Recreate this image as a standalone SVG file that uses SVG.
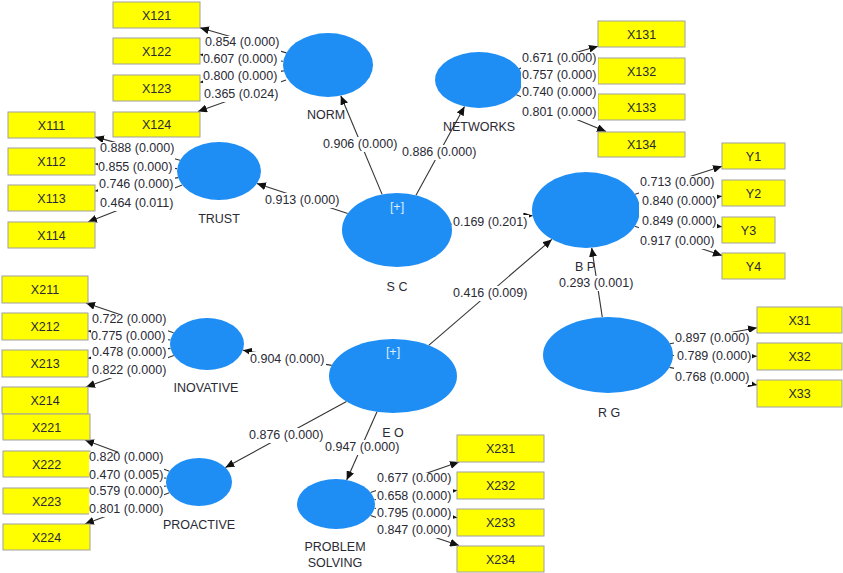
<svg xmlns="http://www.w3.org/2000/svg" width="843" height="573" viewBox="0 0 843 573">
<defs>
<marker id="ah" markerUnits="userSpaceOnUse" markerWidth="10" markerHeight="8" refX="9" refY="4" orient="auto">
<path d="M0,0 L9,4 L0,8 z" fill="#111"/>
</marker>
<style>
.c{stroke:#333;stroke-width:1.1;fill:none;marker-end:url(#ah)}
.lv{fill:#1E8EF5}
.bx{fill:#FFFF00;stroke:#A0A0A0;stroke-width:1}
.t{font-family:"Liberation Sans",Arial,sans-serif;font-size:12.5px;fill:#2a2a35}
.m{text-anchor:middle}
.pl{fill:#DDEEFF;font-family:"Liberation Sans",Arial,sans-serif;font-size:12.5px;text-anchor:middle}
.bg{fill:#fff}
</style>
</defs>
<rect width="843" height="573" fill="#fff"/>
<g id="connectors">
<!-- structural -->
<line class="c" x1="382.1" y1="194.4" x2="340.8" y2="95.7"/>
<line class="c" x1="416" y1="195.3" x2="464.5" y2="106.4"/>
<line class="c" x1="347.7" y1="213.6" x2="256.9" y2="183.5"/>
<line class="c" x1="451.3" y1="224.2" x2="532.6" y2="215.6"/>
<line class="c" x1="428.7" y1="345.3" x2="551.8" y2="239.4"/>
<line class="c" x1="602.3" y1="317.2" x2="591.7" y2="247.8"/>
<line class="c" x1="331.7" y1="365.4" x2="242.9" y2="350.2"/>
<line class="c" x1="346.5" y1="401.4" x2="225.4" y2="467.6"/>
<line class="c" x1="377" y1="411.8" x2="346.7" y2="480"/>
<!-- NORM -->
<line class="c" x1="286.4" y1="52.9" x2="200" y2="27.7"/>
<line class="c" x1="283.3" y1="61.3" x2="200" y2="54.6"/>
<line class="c" x1="283.8" y1="70.9" x2="200" y2="82.2"/>
<line class="c" x1="286" y1="80" x2="198" y2="111.5"/>
<!-- NETWORKS -->
<line class="c" x1="519.2" y1="68.6" x2="598" y2="46.3"/>
<line class="c" x1="522.8" y1="77.6" x2="598" y2="73.4"/>
<line class="c" x1="521.6" y1="87.1" x2="598" y2="99.8"/>
<line class="c" x1="516.3" y1="94.8" x2="606" y2="131.5"/>
<!-- TRUST -->
<line class="c" x1="180" y1="160.3" x2="95" y2="136.9"/>
<line class="c" x1="177.1" y1="168.6" x2="95" y2="164"/>
<line class="c" x1="178.1" y1="177.6" x2="95" y2="191"/>
<line class="c" x1="182.2" y1="185" x2="88" y2="222"/>
<!-- BP -->
<line class="c" x1="635.1" y1="194.2" x2="722" y2="166.2"/>
<line class="c" x1="639.4" y1="204.6" x2="722" y2="196.2"/>
<line class="c" x1="639.2" y1="216.5" x2="722" y2="226.7"/>
<line class="c" x1="634.8" y1="226.3" x2="722" y2="255.5"/>
<!-- RG -->
<line class="c" x1="670" y1="343.7" x2="757" y2="327.8"/>
<line class="c" x1="673" y1="355.5" x2="757" y2="356.2"/>
<line class="c" x1="669.5" y1="367.4" x2="757" y2="385"/>
<!-- INOVATIVE -->
<line class="c" x1="173.6" y1="332.8" x2="86" y2="303"/>
<line class="c" x1="170.4" y1="340" x2="88" y2="331.1"/>
<line class="c" x1="170.5" y1="348.4" x2="88" y2="358.3"/>
<line class="c" x1="173.9" y1="355.6" x2="86" y2="387"/>
<!-- PROACTIVE -->
<line class="c" x1="169.4" y1="471.3" x2="85" y2="440"/>
<line class="c" x1="166.4" y1="478.2" x2="90" y2="469.1"/>
<line class="c" x1="166.4" y1="486" x2="90" y2="496.6"/>
<line class="c" x1="169.4" y1="492.7" x2="85" y2="524"/>
<!-- PROBLEM SOLVING -->
<line class="c" x1="370.5" y1="492.4" x2="459" y2="462"/>
<line class="c" x1="374.4" y1="499.7" x2="457" y2="490.4"/>
<line class="c" x1="374.4" y1="508.3" x2="457" y2="517.6"/>
<line class="c" x1="370.5" y1="515.5" x2="459" y2="545.5"/>
</g>
<g id="lv-norm"><ellipse class="lv" cx="328" cy="65" rx="45" ry="32"/><text class="t m" x="326" y="119">NORM</text></g>
<g id="lv-networks"><ellipse class="lv" cx="479" cy="80" rx="44" ry="28"/><text class="t m" x="479" y="131">NETWORKS</text></g>
<g id="lv-trust"><ellipse class="lv" cx="219" cy="171" rx="42" ry="29"/><text class="t m" x="219" y="223">TRUST</text></g>
<g id="lv-sc"><ellipse class="lv" cx="397" cy="230" rx="55" ry="37"/><text class="pl" x="397" y="211">[+]</text><text class="t m" x="397" y="291">S C</text></g>
<g id="lv-bp"><ellipse class="lv" cx="586" cy="210" rx="54" ry="38"/><text class="t m" x="585" y="271">B P</text></g>
<g id="lv-rg"><ellipse class="lv" cx="608" cy="355" rx="65" ry="38"/><text class="t m" x="609" y="417">R G</text></g>
<g id="lv-inovative"><ellipse class="lv" cx="207" cy="344" rx="37" ry="26"/><text class="t m" x="206" y="392">INOVATIVE</text></g>
<g id="lv-eo"><ellipse class="lv" cx="393" cy="376" rx="64" ry="37"/><text class="pl" x="393" y="356">[+]</text><text class="t m" x="393" y="437">E O</text></g>
<g id="lv-proactive"><ellipse class="lv" cx="199" cy="482" rx="33" ry="24"/><text class="t m" x="199" y="529">PROACTIVE</text></g>
<g id="lv-problem"><ellipse class="lv" cx="336" cy="504" rx="39" ry="25"/><text class="t m" x="335" y="551">PROBLEM</text><text class="t m" x="335" y="567">SOLVING</text></g>
<g id="ind-x121"><rect class="bx" x="113" y="2" width="87" height="26"/><text class="t m" x="156.5" y="19.5">X121</text></g>
<g id="ind-x122"><rect class="bx" x="113" y="38" width="87" height="26"/><text class="t m" x="156.5" y="55.5">X122</text></g>
<g id="ind-x123"><rect class="bx" x="113" y="75" width="87" height="26"/><text class="t m" x="156.5" y="92.5">X123</text></g>
<g id="ind-x124"><rect class="bx" x="113" y="112" width="87" height="25"/><text class="t m" x="156.5" y="129">X124</text></g>
<g id="ind-x131"><rect class="bx" x="598" y="21" width="87" height="26"/><text class="t m" x="641.5" y="38.5">X131</text></g>
<g id="ind-x132"><rect class="bx" x="598" y="58" width="87" height="26"/><text class="t m" x="641.5" y="75.5">X132</text></g>
<g id="ind-x133"><rect class="bx" x="598" y="94" width="87" height="26"/><text class="t m" x="641.5" y="111.5">X133</text></g>
<g id="ind-x134"><rect class="bx" x="598" y="132" width="87" height="25"/><text class="t m" x="641.5" y="149">X134</text></g>
<g id="ind-x111"><rect class="bx" x="8" y="112" width="87" height="26"/><text class="t m" x="51.5" y="129.5">X111</text></g>
<g id="ind-x112"><rect class="bx" x="8" y="148" width="87" height="27"/><text class="t m" x="51.5" y="166">X112</text></g>
<g id="ind-x113"><rect class="bx" x="8" y="185" width="87" height="26"/><text class="t m" x="51.5" y="202.5">X113</text></g>
<g id="ind-x114"><rect class="bx" x="8" y="222" width="87" height="26"/><text class="t m" x="51.5" y="239.5">X114</text></g>
<g id="ind-y1"><rect class="bx" x="722" y="143" width="63" height="26"/><text class="t m" x="753.5" y="160.5">Y1</text></g>
<g id="ind-y2"><rect class="bx" x="722" y="180" width="63" height="26"/><text class="t m" x="753.5" y="197.5">Y2</text></g>
<g id="ind-y3"><rect class="bx" x="722" y="217" width="53" height="26"/><text class="t m" x="748.5" y="234.5">Y3</text></g>
<g id="ind-y4"><rect class="bx" x="722" y="253" width="63" height="26"/><text class="t m" x="753.5" y="270.5">Y4</text></g>
<g id="ind-x31"><rect class="bx" x="757" y="307" width="85" height="26"/><text class="t m" x="799.5" y="324.5">X31</text></g>
<g id="ind-x32"><rect class="bx" x="757" y="343" width="85" height="27"/><text class="t m" x="799.5" y="361">X32</text></g>
<g id="ind-x33"><rect class="bx" x="757" y="380" width="85" height="27"/><text class="t m" x="799.5" y="398">X33</text></g>
<g id="ind-x211"><rect class="bx" x="2" y="276" width="86" height="27"/><text class="t m" x="45" y="294">X211</text></g>
<g id="ind-x212"><rect class="bx" x="2" y="313" width="86" height="27"/><text class="t m" x="45" y="331">X212</text></g>
<g id="ind-x213"><rect class="bx" x="2" y="350" width="86" height="27"/><text class="t m" x="45" y="368">X213</text></g>
<g id="ind-x214"><rect class="bx" x="2" y="387" width="86" height="27"/><text class="t m" x="45" y="405">X214</text></g>
<g id="ind-x221"><rect class="bx" x="3" y="414" width="87" height="26"/><text class="t m" x="46.5" y="431.5">X221</text></g>
<g id="ind-x222"><rect class="bx" x="3" y="451" width="87" height="26"/><text class="t m" x="46.5" y="468.5">X222</text></g>
<g id="ind-x223"><rect class="bx" x="3" y="488" width="87" height="26"/><text class="t m" x="46.5" y="505.5">X223</text></g>
<g id="ind-x224"><rect class="bx" x="3" y="524" width="87" height="26"/><text class="t m" x="46.5" y="541.5">X224</text></g>
<g id="ind-x231"><rect class="bx" x="457" y="435" width="87" height="27"/><text class="t m" x="500.5" y="453">X231</text></g>
<g id="ind-x232"><rect class="bx" x="457" y="472" width="87" height="27"/><text class="t m" x="500.5" y="490">X232</text></g>
<g id="ind-x233"><rect class="bx" x="457" y="509" width="87" height="27"/><text class="t m" x="500.5" y="527">X233</text></g>
<g id="ind-x234"><rect class="bx" x="457" y="546" width="87" height="26"/><text class="t m" x="500.5" y="563.5">X234</text></g>
<g id="labels">
<rect class="bg" x="203" y="36" width="78" height="66"/>
<text class="t" x="205" y="46">0.854 (0.000)</text>
<text class="t" x="203" y="63">0.607 (0.000)</text>
<text class="t" x="203" y="80">0.800 (0.000)</text>
<text class="t" x="204" y="98">0.365 (0.024)</text>
<rect class="bg" x="521" y="52" width="77" height="68"/>
<text class="t" x="522" y="62">0.671 (0.000)</text>
<text class="t" x="522" y="79">0.757 (0.000)</text>
<text class="t" x="522" y="96">0.740 (0.000)</text>
<text class="t" x="522" y="116">0.801 (0.000)</text>
<rect class="bg" x="98" y="142" width="77" height="69"/>
<text class="t" x="100" y="152">0.888 (0.000)</text>
<text class="t" x="98" y="171">0.855 (0.000)</text>
<text class="t" x="99" y="188">0.746 (0.000)</text>
<text class="t" x="100" y="207">0.464 (0.011)</text>
<rect class="bg" x="639" y="176" width="78" height="73"/>
<text class="t" x="640" y="186">0.713 (0.000)</text>
<text class="t" x="642" y="205">0.840 (0.000)</text>
<text class="t" x="642" y="225">0.849 (0.000)</text>
<text class="t" x="640" y="245">0.917 (0.000)</text>
<rect class="bg" x="674" y="332" width="78" height="53"/>
<text class="t" x="675" y="342">0.897 (0.000)</text>
<text class="t" x="677" y="360">0.789 (0.000)</text>
<text class="t" x="675" y="381">0.768 (0.000)</text>
<rect class="bg" x="91" y="314" width="77" height="64"/>
<text class="t" x="92" y="323">0.722 (0.000)</text>
<text class="t" x="91" y="340">0.775 (0.000)</text>
<text class="t" x="92" y="356">0.478 (0.000)</text>
<text class="t" x="92" y="374">0.822 (0.000)</text>
<rect class="bg" x="89" y="452" width="75" height="65"/>
<text class="t" x="89" y="461">0.820 (0.000)</text>
<text class="t" x="89" y="479">0.470 (0.005)</text>
<text class="t" x="89" y="495">0.579 (0.000)</text>
<text class="t" x="89" y="513">0.801 (0.000)</text>
<rect class="bg" x="376" y="473" width="77" height="65"/>
<text class="t" x="377" y="482">0.677 (0.000)</text>
<text class="t" x="377" y="500">0.658 (0.000)</text>
<text class="t" x="377" y="517">0.795 (0.000)</text>
<text class="t" x="377" y="534">0.847 (0.000)</text>
<rect class="bg" x="322" y="137" width="77" height="15"/>
<text class="t" x="323" y="148">0.906 (0.000)</text>
<rect class="bg" x="401" y="145" width="77" height="15"/>
<text class="t" x="402" y="156">0.886 (0.000)</text>
<rect class="bg" x="264" y="193" width="77" height="15"/>
<text class="t" x="265" y="204">0.913 (0.000)</text>
<rect class="bg" x="452" y="215" width="77" height="15"/>
<text class="t" x="453" y="226">0.169 (0.201)</text>
<rect class="bg" x="452" y="286" width="77" height="15"/>
<text class="t" x="453" y="297">0.416 (0.009)</text>
<rect class="bg" x="558" y="276" width="77" height="15"/>
<text class="t" x="559" y="287">0.293 (0.001)</text>
<rect class="bg" x="249" y="352" width="77" height="15"/>
<text class="t" x="250" y="363">0.904 (0.000)</text>
<rect class="bg" x="248" y="428" width="77" height="15"/>
<text class="t" x="249" y="439">0.876 (0.000)</text>
<rect class="bg" x="324" y="440" width="77" height="15"/>
<text class="t" x="325" y="451">0.947 (0.000)</text>
</g>
</svg>
